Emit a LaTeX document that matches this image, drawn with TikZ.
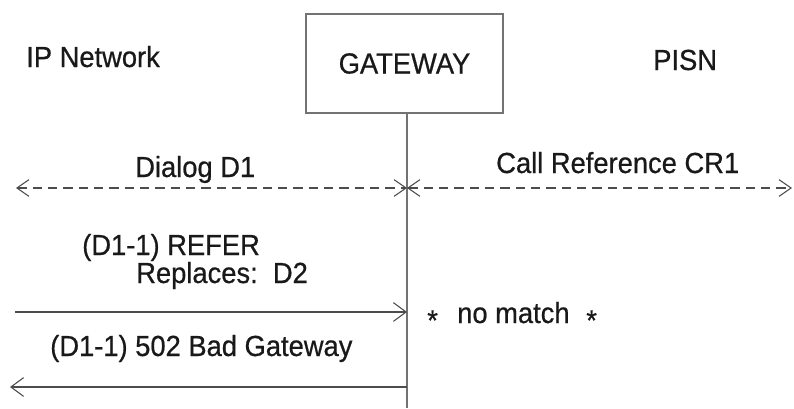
\documentclass[tikz,border=0pt]{standalone}
\usepackage{fontspec}
\setmainfont{Liberation Sans}[FakeStretch=0.94, FakeBold=0.6]
\usetikzlibrary{arrows.meta}

\begin{document}
\begin{tikzpicture}[x=0.75pt, y=-0.75pt]

\tikzstyle{every node} = [inner sep=0pt, text=black!90, font=\fontsize{21.8}{25}\selectfont]
\tikzstyle{label} = [anchor=base west]
\tikzstyle{msg} = [draw=black!70, line width=0.8pt, arrows={-Straight Barb[length=9.5pt, width=14pt]}]
\tikzstyle{span} = [msg, dashed, dash pattern=on 7pt off 4.5pt, arrows={Straight Barb[length=9pt, width=12.5pt]-Straight Barb[length=9pt, width=12.5pt]}]

\useasboundingbox (0,0) rectangle (794,408);

\node[draw=black!55, line width=0.8pt, minimum width=147.75pt, minimum height=74.25pt] (gw) at (404.5,63.5) {GATEWAY};

\node[label] (ip) at (26,67) {IP Network};
\node[label] (pisn) at (653,70) {PISN};

\node[label] (dlg) at (135,177) {Dialog D1};
\node[label] (cr) at (496,173) {Call Reference CR1};

\node[label] (refer) at (82,255) {(D1-1) REFER};
\node[label] (repl) at (136,283) {Replaces:\ \ D2};
\node[label] (nomatch) at (427,323) {\raisebox{-5.5pt}{*}\hspace{14.5pt}no match\hspace{12.5pt}\raisebox{-5.5pt}{*}};
\node[label] (bad) at (50,356) {(D1-1) 502 Bad Gateway};

% lifeline of the gateway
\coordinate (lb) at (407,408);
\coordinate (mid) at (407,188);
\coordinate (dl) at (16,188);
\coordinate (dr) at (792,188);
\coordinate (rs) at (15,312);
\coordinate (re) at (407,312);
\coordinate (bs) at (407,387);
\coordinate (be) at (10,387);

\draw[draw=black!55, line width=0.8pt] (gw.south -| lb) -- (lb);

\draw[span] (dl) -- (mid);
\draw[span] (mid) -- (dr);
\draw[msg] (rs) -- (re);
\draw[msg] (bs) -- (be);
\end{tikzpicture}
\end{document}
